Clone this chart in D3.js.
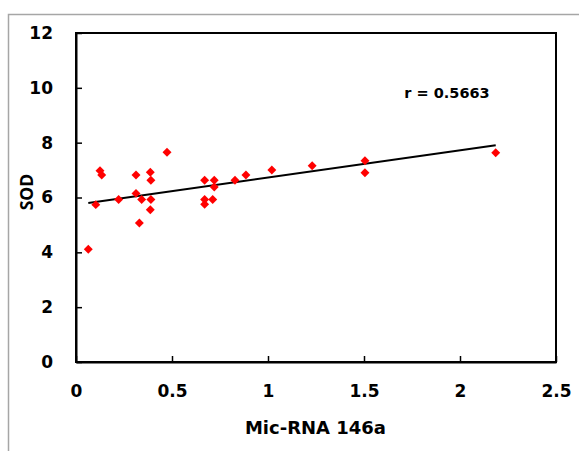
<!DOCTYPE html>
<html><head><meta charset="utf-8">
<script src="https://cdn.jsdelivr.net/npm/d3@7"></script>
<style>
html,body{margin:0;padding:0;background:#fff;}
svg text{font-family:"DejaVu Sans",sans-serif;font-weight:bold;fill:#000;}
</style></head>
<body><svg id="c" width="579" height="451"></svg>
<script>
const micRNA = [0.064,0.103,0.125,0.134,0.222,0.3125,0.3125,0.33,0.342,0.387,0.39,0.39,0.387,0.474,0.67,0.67,0.67,0.72,0.72,0.712,0.828,0.885,1.02,1.23,1.505,1.505,2.186];
const sod    = [4.11,5.74,6.98,6.82,5.93,6.82,6.15,5.07,5.93,6.92,6.63,5.93,5.55,7.65,6.63,5.93,5.75,6.63,6.38,5.93,6.63,6.82,7.00,7.16,7.34,6.90,7.63];
const trendSlope = 0.99;
const trendIntercept = 5.74;
const xTicks = [0,0.5,1,1.5,2,2.5];
const yTicks = [0,2,4,6,8,10,12];
const xLabel = "Mic-RNA 146a";
const yLabel = "SOD";
const rLabel = "r = 0.5663";

const svg = d3.select("#c");
svg.append("rect").attr("x",8.5).attr("y",14.5).attr("width",620).attr("height",500)
  .attr("fill","none").attr("stroke","#a6a6a6").attr("stroke-width",1.5);

const m = {l:76, r:556, t:33, b:362};
const x = d3.scaleLinear().domain([0,2.5]).range([m.l,m.r]);
const y = d3.scaleLinear().domain([0,12]).range([m.b,m.t]);

svg.append("rect").attr("x",m.l).attr("y",m.t).attr("width",m.r-m.l).attr("height",m.b-m.t)
  .attr("fill","none").attr("stroke","#000").attr("stroke-width",2);

const xa = svg.append("g").attr("transform",`translate(0,${m.b})`)
  .call(d3.axisBottom(x).tickValues(xTicks).tickSizeInner(-6).tickSizeOuter(0).tickPadding(23).tickFormat(d3.format("")));
const ya = svg.append("g").attr("transform",`translate(${m.l},0)`)
  .call(d3.axisLeft(y).tickValues(yTicks).tickSizeInner(-6).tickSizeOuter(0).tickPadding(23));
[xa,ya].forEach(a=>{
  a.select(".domain").attr("stroke","#000").attr("stroke-width",2);
  a.selectAll(".tick line").attr("stroke","#000").attr("stroke-width",1.5);
  a.selectAll("text").style("font-size","17px").style("font-weight","bold")
    .style("font-family","'DejaVu Sans',sans-serif").attr("fill","#000");
});

const x0 = d3.min(micRNA), x1 = d3.max(micRNA);
svg.append("line").attr("x1",x(x0)).attr("y1",y(trendIntercept+trendSlope*x0))
  .attr("x2",x(x1)).attr("y2",y(trendIntercept+trendSlope*x1))
  .attr("stroke","#000").attr("stroke-width",2);

const diamond = d3.symbol().type(d3.symbolSquare).size(40);
svg.selectAll(".pt").data(d3.range(micRNA.length)).join("path").attr("class","pt")
  .attr("d",diamond)
  .attr("transform",i=>`translate(${x(micRNA[i])},${y(sod[i])}) rotate(45)`)
  .attr("fill","#ff0000");

svg.append("text").attr("x",447).attr("y",98).attr("text-anchor","middle")
  .style("font-size","14.5px").text(rLabel);
svg.append("text").attr("x",(m.l+m.r)/2 - 0.5).attr("y",434).attr("text-anchor","middle")
  .style("font-size","18px").text(xLabel);
svg.append("text").attr("transform","translate(33,192) rotate(-90)").attr("text-anchor","middle")
  .style("font-family","'Open Sans',sans-serif").style("font-size","17.5px").text(yLabel);
</script></body></html>
